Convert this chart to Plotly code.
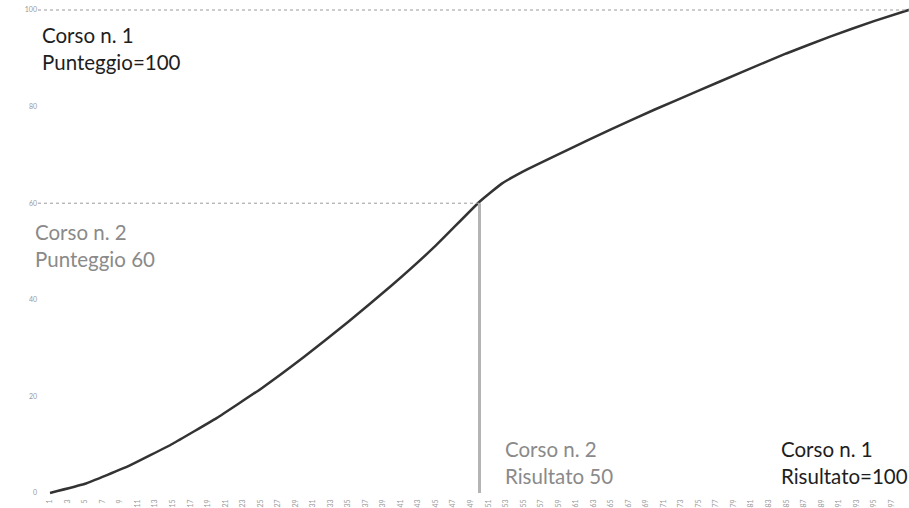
import plotly.graph_objects as go

# Data
x_vals = [1, 5, 10, 15, 20, 25, 30, 35, 40, 45, 50, 52.5, 55, 60, 65, 70, 75, 80, 85, 90, 95, 100]
y_vals = [0, 1.9, 5.6, 10.2, 15.5, 21.5, 28.2, 35.4, 43.0, 51.2, 60.3, 64.0, 66.6, 71.0, 75.3, 79.4, 83.3, 87.2, 91.0, 94.5, 97.7, 100.6]

x_ticks = list(range(1, 100, 2))
y_ticks = [0, 20, 40, 60, 80, 100]

course2_x = 50
course2_y = 60
course1_y = 100

W, H = 909, 508
L, R, T, B = 38, 0, 0, 11
pw, ph = W - L - R, H - T - B
X0, X1 = -0.37, 99.0

fig = go.Figure()
fig.add_trace(go.Scatter(
    x=x_vals, y=y_vals, mode="lines",
    line=dict(color="#333333", width=2.5, shape="spline", smoothing=0.3),
    hoverinfo="skip", showlegend=False,
))

shapes = [
    dict(type="line", xref="paper", yref="y", x0=0, x1=1, y0=course1_y, y1=course1_y,
         line=dict(color="#9a9a9a", width=1, dash="dot")),
    dict(type="line", xref="paper", yref="y", x0=0, x1=(course2_x - X0) / (X1 - X0),
         y0=course2_y, y1=course2_y, line=dict(color="#9a9a9a", width=1, dash="dot")),
    dict(type="line", xref="x", yref="y", x0=course2_x, x1=course2_x, y0=0, y1=course2_y,
         line=dict(color="#b4b4b4", width=3)),
]


def px2paper(px, py):
    return (px - L) / pw, 1 - (py - T) / ph


annots = [
    ("Corso n. 1<br>Punteggio=100", 40, 49, "#1e1e1e"),
    ("Corso n. 2<br>Punteggio 60", 33, 245, "#8a8a8a"),
    ("Corso n. 2<br>Risultato 50", 503, 462, "#8a8a8a"),
    ("Corso n. 1<br>Risultato=100", 779, 462, "#1e1e1e"),
]
annotations = []
for text, px, py, col in annots:
    ax, ay = px2paper(px, py)
    annotations.append(dict(
        text=text, xref="paper", yref="paper", x=ax, y=ay,
        xanchor="left", yanchor="middle", align="left", showarrow=False,
        font=dict(family="Lato", size=20.5, color=col),
    ))

fig.update_layout(
    width=W, height=H,
    margin=dict(l=L, r=R, t=T, b=B, autoexpand=False),
    paper_bgcolor="white", plot_bgcolor="white",
    shapes=shapes, annotations=annotations,
    xaxis=dict(range=[X0, X1], tickvals=x_ticks, ticktext=[str(v) for v in x_ticks],
               tickangle=-90, tickfont=dict(family="Lato", size=7, color="#999999"),
               showgrid=False, zeroline=False, showline=False, ticks="", automargin=False),
    yaxis=dict(range=[-0.83, 102.07], tickvals=y_ticks, ticktext=[str(v) for v in y_ticks],
               tickfont=dict(family="Lato", size=7, color="#999999"),
               showgrid=False, zeroline=False, showline=False, ticks="", automargin=False),
)

fig.write_html(
    "out.html",
    config={"displayModeBar": False},
    post_script="document.body.style.margin='0';document.body.style.overflow='hidden';",
)
